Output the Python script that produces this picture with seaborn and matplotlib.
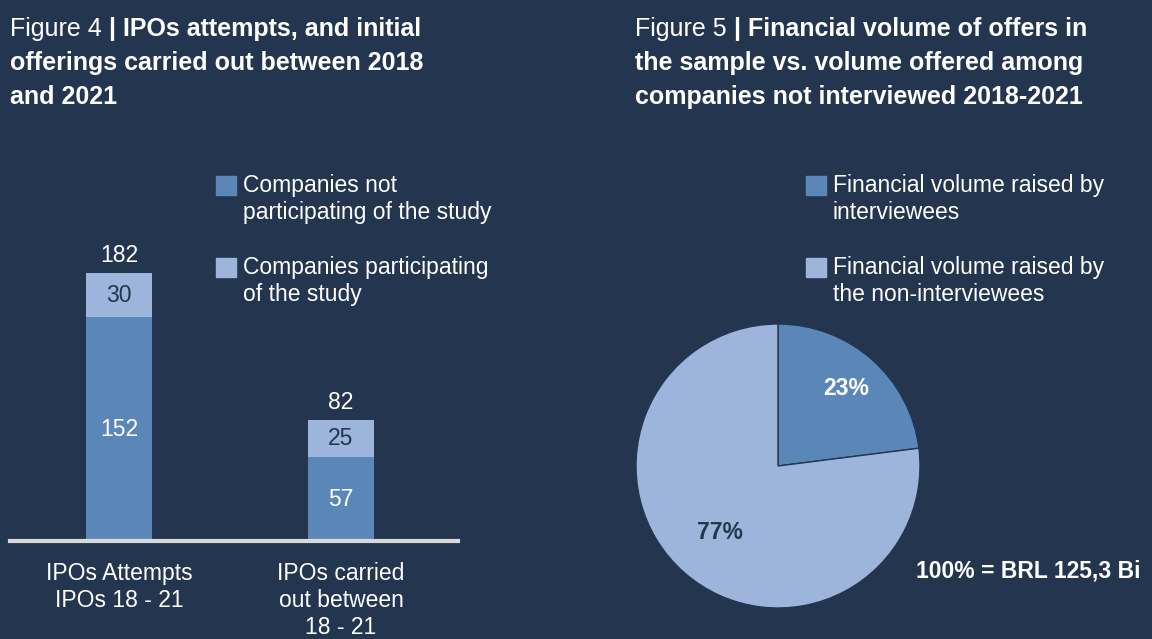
import matplotlib
matplotlib.use("Agg")
import matplotlib.pyplot as plt
import seaborn as sns
import numpy as np
from matplotlib.patches import Rectangle

# 資料
categories = ["IPOs Attempts\nIPOs 18 - 21", "IPOs carried\nout between\n18 - 21"]
not_participating = [152, 57]
participating = [30, 25]
totals = [a + b for a, b in zip(not_participating, participating)]

pie_labels = ["Financial volume raised by\ninterviewees",
              "Financial volume raised by\nthe non-interviewees"]
pie_shares = [23, 77]

bar_legend = ["Companies not\nparticipating of the study",
              "Companies participating\nof the study"]

# 顏色
BG = "#24364f"
DARK = "#5b87b8"
LIGHT = "#9db5da"
WHITE = "#ffffff"
AXIS = "#d9d9d9"
FS = 16.5

sns.set_theme(style="white")
plt.rcParams['font.family'] = ['Liberation Sans', 'DejaVu Sans']

W, H = 1152, 639
fig = plt.figure(figsize=(W / 100, H / 100), dpi=100, facecolor=BG)


def px(x, y):
    # 像素座標 -> 圖形座標
    return x / W, 1 - y / H


renderer = fig.canvas.get_renderer()


# 標題（前半一般字、後半粗體）
def mixed_title(x, y, normal, bold_lines):
    t = fig.text(*px(x, y), normal, color=WHITE, fontsize=18, va="baseline", ha="left")
    bb = t.get_window_extent(renderer=renderer)
    fig.text(*px(x + bb.width, y), bold_lines[0], color=WHITE, fontsize=18,
             fontweight="bold", va="baseline", ha="left")
    for i, line in enumerate(bold_lines[1:]):
        fig.text(*px(x, y + 34 * (i + 1)), line, color=WHITE, fontsize=18,
                 fontweight="bold", va="baseline", ha="left")


mixed_title(10, 36, "Figure 4 ", ["| IPOs attempts, and initial",
                                  "offerings carried out between 2018",
                                  "and 2021"])
mixed_title(635, 36, "Figure 5 ", ["| Financial volume of offers in",
                                   "the sample vs. volume offered among",
                                   "companies not interviewed 2018-2021"])

# 長條圖
ax_l, ax_b = px(10, 541)
ax = fig.add_axes([ax_l, ax_b, 448 / W, 294.5 / H])
ax.set_facecolor(BG)
sns.barplot(x=categories, y=totals, color=LIGHT, width=0.297, saturation=1,
            linewidth=0, ax=ax)
sns.barplot(x=categories, y=not_participating, color=DARK, width=0.297, saturation=1,
            linewidth=0, ax=ax)
ax.set_xlim(-0.491, 1.527)
ax.set_ylim(0, 200)
for s in ["top", "right", "left"]:
    ax.spines[s].set_visible(False)
ax.spines["bottom"].set_color(AXIS)
ax.spines["bottom"].set_linewidth(3)
ax.set_yticks([])
ax.tick_params(axis="x", length=0, pad=15, labelsize=FS, labelcolor=WHITE)
for lbl in ax.get_xticklabels():
    lbl.set_linespacing(1.24)
    lbl.set_va("top")

for i in range(len(categories)):
    ax.text(i, not_participating[i] / 2, str(not_participating[i]), color=WHITE,
            fontsize=FS, ha="center", va="center")
    ax.text(i, not_participating[i] + participating[i] / 2, str(participating[i]),
            color=BG, fontsize=FS, ha="center", va="center")
    ax.text(i, totals[i] + 4, str(totals[i]), color=WHITE,
            fontsize=FS, ha="center", va="bottom")


# 圖例（手動）
def legend(x, y, labels):
    for k, (lab, col) in enumerate(zip(labels, [DARK, LIGHT])):
        yy = y + 82 * k
        fig.patches.append(Rectangle(px(x, yy + 19), 20 / W, 19 / H,
                                     transform=fig.transFigure, color=col))
        for j, line in enumerate(lab.split("\n")):
            fig.text(*px(x + 27, yy + 16 + 27 * j), line, color=WHITE, fontsize=FS,
                     va="baseline", ha="left")


legend(216, 176, bar_legend)
legend(806, 176, pie_labels)

# 圓餅圖
R = 142
cx, cy = 778, 466
pax = fig.add_axes([(cx - R) / W, (H - cy - R) / H, 2 * R / W, 2 * R / H])
wedges, _ = pax.pie(pie_shares, colors=[DARK, LIGHT], startangle=90, counterclock=False,
                    wedgeprops=dict(edgecolor=BG, linewidth=1))
pax.set_xlim(-1, 1)
pax.set_ylim(-1, 1)
pax.set_aspect("equal")
for w, share, dist, col in zip(wedges, pie_shares, [0.73, 0.62], [WHITE, BG]):
    mid = np.deg2rad((w.theta1 + w.theta2) / 2)
    pax.text(dist * np.cos(mid), dist * np.sin(mid), f"{share}%", color=col,
             fontsize=FS, fontweight="bold", ha="center", va="center")

fig.text(*px(1140, 571), "100% = BRL 125,3 Bi", color=WHITE, fontsize=FS,
         fontweight="bold", ha="right", va="center")

fig.savefig("out.png", dpi=100, facecolor=BG)
